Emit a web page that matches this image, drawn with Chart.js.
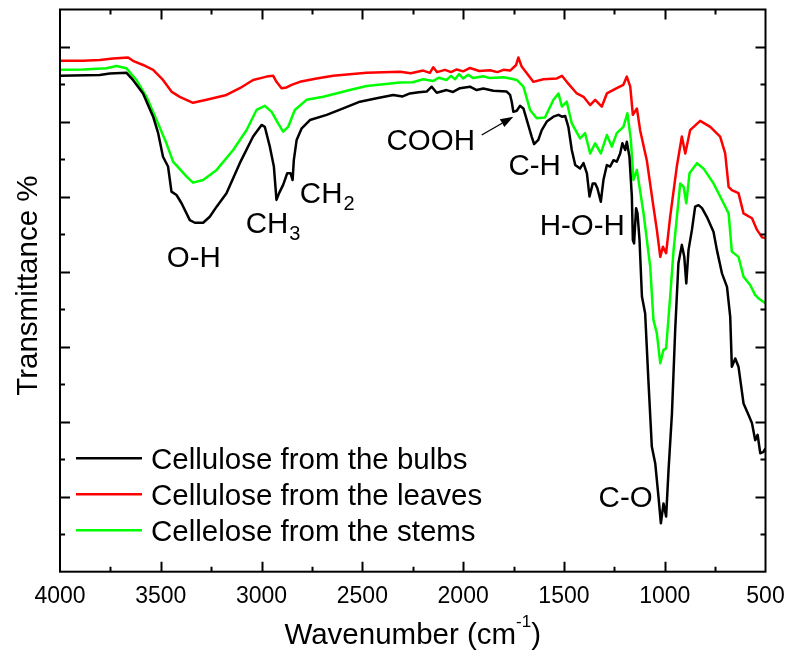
<!DOCTYPE html>
<html>
<head>
<meta charset="utf-8">
<script src="https://cdn.jsdelivr.net/npm/chart.js@4/dist/chart.umd.min.js"></script>
<style>
html,body{margin:0;padding:0;background:#fff;}
#c{display:block;}
</style>
</head>
<body>
<canvas id="c" width="787" height="658"></canvas>
<script>
// ---------------- data ----------------
const seriesLabels = ['Cellulose from the bulbs', 'Cellulose from the leaves', 'Cellelose from the stems'];
const seriesColors = ['#000000', '#ff0000', '#00ff00'];

const wnBulbs = [4000,3803,3753,3670,3638,3588,3538,3513,3489,3464,3447,3422,3397,3356,3331,3290,3257,3223,3174,3108,3042,3000,2984,2959,2939,2926,2913,2893,2873,2856,2846,2840,2826,2801,2760,2677,2595,2512,2429,2347,2300,2264,2220,2181,2156,2131,2082,2050,2016,1966,1933,1900,1850,1784,1767,1759,1751,1734,1718,1701,1684,1660,1648,1627,1610,1585,1552,1527,1510,1494,1478,1461,1444,1420,1403,1386,1373,1357,1345,1334,1317,1304,1287,1271,1254,1238,1221,1210,1196,1188,1175,1163,1158,1152,1142,1135,1125,1113,1097,1081,1064,1047,1031,1019,1006,993,981,964,948,932,915,903,893,882,865,849,832,815,791,758,741,716,691,675,667,650,634,609,584,567,551,539,526,510,500];
const tBulbs = [132.3,132.5,132.9,133.1,131.2,127.6,121.4,117.0,110.7,108.1,101.4,100.5,98.3,93.8,93.1,93.1,94.7,97.4,101.0,109.0,116.1,119.2,118.7,113.4,108.1,99.2,101.0,103.2,106.3,106.3,104.5,109.8,115.2,118.3,120.5,121.9,123.6,125.4,126.3,127.2,126.8,127.6,127.9,128.1,129.4,127.8,128.5,128.0,129.0,129.4,128.5,128.9,128.3,128.1,127.2,125.4,122.7,123.0,124.3,123.6,120.5,116.1,114.1,115.2,117.8,120.1,121.4,121.9,121.4,121.6,118.7,112.5,108.5,107.6,109.0,106.3,100.1,103.6,103.6,102.3,98.7,104.5,108.5,108.1,109.8,109.4,111.6,114.3,112.5,114.7,110.7,100.1,88.5,87.6,97.0,95.6,88.5,73.4,68.9,51.1,33.4,28.9,20.0,12.9,18.2,14.7,27.1,42.3,64.5,82.3,87.2,84.0,76.9,85.8,91.2,97.4,97.8,97.0,94.7,90.7,85.8,79.6,76.0,68.0,54.7,56.9,54.7,44.9,41.8,39.6,35.1,36.5,31.6,32.0,32.9];

const wnLeaves = [4000,3886,3803,3737,3662,3638,3588,3538,3489,3447,3406,3340,3273,3174,3108,3042,2975,2942,2926,2901,2876,2851,2810,2727,2645,2479,2313,2260,2198,2165,2148,2130,2090,2060,2032,2000,1966,1920,1867,1830,1800,1767,1737,1726,1709,1684,1652,1602,1535,1510,1486,1436,1403,1370,1345,1312,1287,1238,1205,1188,1171,1158,1138,1122,1089,1056,1039,1022,1009,993,973,940,915,898,874,824,774,725,700,683,667,634,609,567,542,517,500];
const tLeaves = [136.3,136.3,136.5,136.9,137.2,136.3,135.2,133.9,131.2,128.1,126.7,125.1,125.9,127.2,129.0,131.2,132.1,132.3,130.7,129.0,129.2,129.9,130.7,131.6,132.3,133.1,133.4,133.0,133.7,133.1,134.6,133.3,133.9,133.3,134.0,133.5,134.4,133.6,133.8,133.3,133.9,133.7,135.2,137.2,134.7,133.0,130.7,131.4,131.6,132.3,130.7,127.6,126.7,124.5,125.9,124.1,127.6,129.0,129.9,132.1,129.4,121.9,123.6,117.8,109.8,97.4,91.2,84.0,86.7,85.0,94.7,108.1,116.1,111.6,117.8,120.3,118.7,116.1,111.6,102.7,101.8,101.0,95.6,94.3,91.2,89.2,89.0];

const wnStems = [4000,3886,3770,3720,3670,3621,3571,3521,3472,3439,3372,3340,3290,3223,3141,3075,3025,2984,2950,2918,2893,2868,2835,2777,2694,2562,2479,2313,2250,2198,2150,2120,2083,2060,2040,2020,2000,1975,1950,1900,1867,1800,1760,1734,1701,1668,1635,1594,1552,1527,1510,1486,1461,1420,1395,1370,1345,1317,1287,1262,1238,1205,1185,1168,1155,1138,1105,1072,1056,1039,1022,1006,993,973,956,923,906,893,877,840,808,758,708,683,667,634,609,576,551,534,500];
const tStems = [133.9,134.0,134.3,134.9,134.3,131.2,126.7,120.5,114.3,109.4,105.4,103.8,104.5,107.2,112.5,117.8,123.2,124.3,122.7,119.6,117.4,118.7,123.2,125.9,126.7,128.5,129.6,130.5,130.6,131.4,130.9,131.8,131.2,132.3,131.4,132.8,131.6,132.6,131.7,132.2,131.7,131.9,131.5,131.2,129.4,123.2,121.0,121.2,125.9,127.6,124.1,125.4,119.6,115.6,117.0,111.6,114.3,111.6,116.5,113.4,117.0,118.7,122.3,115.2,104.5,107.2,95.6,81.4,67.2,63.6,55.6,59.2,59.6,73.4,85.8,103.6,102.7,98.3,106.3,109.0,107.6,103.6,98.3,95.6,85.4,84.0,78.7,76.5,73.8,72.9,71.6];

const xTickValues = [4000, 3500, 3000, 2500, 2000, 1500, 1000, 500];
const xTickLabels = ['4000', '3500', '3000', '2500', '2000', '1500', '1000', '500'];
const xTitle = 'Wavenumber (cm';
const xTitleSup = '-1';
const xTitleEnd = ')';
const yTitle = 'Transmittance %';

const bandLabels = [
  {text: 'O-H',   sub: '',  wn: 3336, t: 81.4,  align: 'center'},
  {text: 'CH',    sub: '3', wn: 3079, t: 90.3,  align: 'left'},
  {text: 'CH',    sub: '2', wn: 2810, t: 98.3,  align: 'left'},
  {text: 'COOH',  sub: '',  wn: 1941, t: 112.5, align: 'right'},
  {text: 'C-H',   sub: '',  wn: 1645, t: 105.8, align: 'center'},
  {text: 'H-O-H', sub: '',  wn: 1409, t: 89.8,  align: 'center'},
  {text: 'C-O',   sub: '',  wn: 1194, t: 17.3,  align: 'center'}
];
const arrowFrom = {wn: 1908, t: 116.5};
const arrowTo = {wn: 1751, t: 121.4};

// ---------------- chart ----------------
const FONT = '"Liberation Sans", Arial, Helvetica, sans-serif';
const pts = (xs, ys) => xs.map((x, i) => ({x: x, y: ys[i]}));

const decor = {
  id: 'decor',
  afterDatasetsDraw(chart) {
    const ctx = chart.ctx;
    const a = chart.chartArea;
    const xs = chart.scales.x, ys = chart.scales.y;
    ctx.save();
    ctx.strokeStyle = '#000';
    ctx.fillStyle = '#000';
    ctx.lineWidth = 2;
    ctx.lineCap = 'butt';
    // frame
    ctx.strokeRect(a.left, a.top, a.right - a.left, a.bottom - a.top);
    // x ticks (inward, mirrored on top)
    ctx.beginPath();
    for (let v = 4000; v >= 500; v -= 250) {
      if (v === 4000 || v === 500) continue;
      const px = Math.round(xs.getPixelForValue(v)) + 0.5;
      const L = (v % 500 === 0) ? 10 : 5;
      ctx.moveTo(px, a.bottom); ctx.lineTo(px, a.bottom - L);
      ctx.moveTo(px, a.top); ctx.lineTo(px, a.top + L);
    }
    // y ticks (inward, mirrored on right)
    for (let v = 10; v < 150; v += 10) {
      const py = Math.round(ys.getPixelForValue(v)) + 0.5;
      const L = (v % 20 === 0) ? 10 : 5;
      ctx.moveTo(a.left, py); ctx.lineTo(a.left + L, py);
      ctx.moveTo(a.right, py); ctx.lineTo(a.right - L, py);
    }
    ctx.stroke();

    // x tick labels
    ctx.font = '23px ' + FONT;
    ctx.textAlign = 'center';
    ctx.textBaseline = 'alphabetic';
    xTickValues.forEach((v, i) => {
      ctx.fillText(xTickLabels[i], xs.getPixelForValue(v), a.bottom + 31.5);
    });

    // x title with superscript
    const big = '29.5px ' + FONT, small = '17px ' + FONT, subF = '20px ' + FONT;
    ctx.font = big;
    const w1 = ctx.measureText(xTitle).width;
    const w3 = ctx.measureText(xTitleEnd).width;
    ctx.font = small;
    const w2 = ctx.measureText(xTitleSup).width;
    const cx = (a.left + a.right) / 2;
    let sx = cx - (w1 + w2 + w3) / 2;
    const by = a.bottom + 72;
    ctx.textAlign = 'left';
    ctx.font = big; ctx.fillText(xTitle, sx, by);
    ctx.font = small; ctx.fillText(xTitleSup, sx + w1, by - 17);
    ctx.font = big; ctx.fillText(xTitleEnd, sx + w1 + w2, by);

    // y title
    ctx.save();
    ctx.translate(36.5, (a.top + a.bottom) / 2 - 5);
    ctx.rotate(-Math.PI / 2);
    ctx.textAlign = 'center';
    ctx.font = big;
    ctx.fillText(yTitle, 0, 0);
    ctx.restore();

    // band labels
    bandLabels.forEach(b => {
      const px = xs.getPixelForValue(b.wn), py = ys.getPixelForValue(b.t);
      ctx.font = big;
      const wm = ctx.measureText(b.text).width;
      ctx.font = subF;
      const ws = b.sub ? ctx.measureText(b.sub).width : 0;
      const tw = wm + ws;
      let lx = px;
      if (b.align === 'center') lx = px - tw / 2;
      else if (b.align === 'right') lx = px - tw;
      ctx.textAlign = 'left';
      ctx.font = big;
      ctx.fillText(b.text, lx, py);
      if (b.sub) { ctx.font = subF; ctx.fillText(b.sub, lx + wm + 1, py + 7); }
    });

    // arrow
    const ax0 = xs.getPixelForValue(arrowFrom.wn), ay0 = ys.getPixelForValue(arrowFrom.t);
    const ax1 = xs.getPixelForValue(arrowTo.wn), ay1 = ys.getPixelForValue(arrowTo.t);
    const ang = Math.atan2(ay1 - ay0, ax1 - ax0);
    const hl = 13, hw = 4.5;
    const bx = ax1 - hl * Math.cos(ang), bY = ay1 - hl * Math.sin(ang);
    ctx.lineWidth = 1.3;
    ctx.beginPath(); ctx.moveTo(ax0, ay0); ctx.lineTo(bx, bY); ctx.stroke();
    ctx.beginPath();
    ctx.moveTo(ax1, ay1);
    ctx.lineTo(bx + hw * Math.sin(ang), bY - hw * Math.cos(ang));
    ctx.lineTo(bx - hw * Math.sin(ang), bY + hw * Math.cos(ang));
    ctx.closePath(); ctx.fill();

    // legend (inside, bottom-left)
    chart.data.datasets.forEach((ds, i) => {
      const ly = a.bottom - 113.4 + i * 36;
      ctx.strokeStyle = ds.borderColor;
      ctx.lineWidth = 2.5;
      ctx.beginPath(); ctx.moveTo(a.left + 16, ly); ctx.lineTo(a.left + 82, ly); ctx.stroke();
      ctx.fillStyle = '#000';
      ctx.font = big;
      ctx.textAlign = 'left';
      ctx.fillText(ds.label, a.left + 91, ly + 10.5);
    });
    ctx.restore();
  }
};

new Chart(document.getElementById('c'), {
  type: 'line',
  data: {
    datasets: [
      {label: seriesLabels[0], data: pts(wnBulbs, tBulbs), borderColor: seriesColors[0]},
      {label: seriesLabels[1], data: pts(wnLeaves, tLeaves), borderColor: seriesColors[1]},
      {label: seriesLabels[2], data: pts(wnStems, tStems), borderColor: seriesColors[2]}
    ]
  },
  options: {
    responsive: false,
    devicePixelRatio: 1,
    animation: false,
    layout: {padding: {left: 60, right: 21.5, top: 9.5, bottom: 86.3}},
    elements: {
      line: {borderWidth: 2.5, tension: 0, fill: false, borderJoinStyle: 'round'},
      point: {radius: 0, hoverRadius: 0}
    },
    scales: {
      x: {type: 'linear', min: 500, max: 4000, reverse: true, display: false},
      y: {type: 'linear', min: 0, max: 150, display: false}
    },
    plugins: {legend: {display: false}, tooltip: {enabled: false}, title: {display: false}}
  },
  plugins: [decor]
});
</script>
</body>
</html>
